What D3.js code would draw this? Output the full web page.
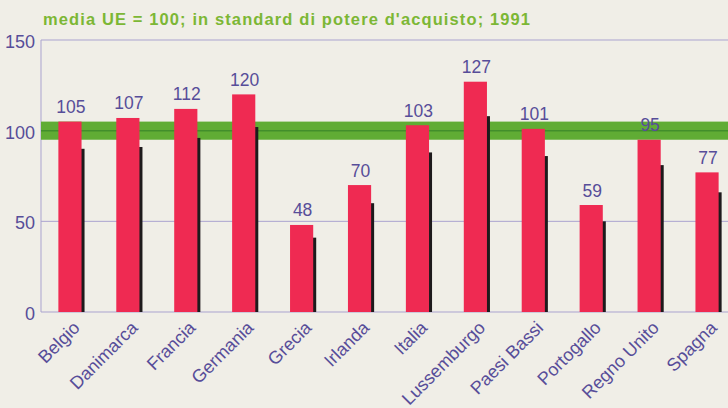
<!DOCTYPE html>
<html lang="it">
<head>
<meta charset="UTF-8">
<title>PIL pro capite UE 1991</title>
<script src="https://d3js.org/d3.v7.min.js"></script>
<style>
  body { margin: 0; background: #f0eee7; }
  svg { display: block; font-family: "Liberation Sans", Arial, sans-serif; }
</style>
</head>
<body>
<svg id="chart" width="728" height="408"></svg>
<script>
// dati
const paesi = ["Belgio", "Danimarca", "Francia", "Germania", "Grecia", "Irlanda",
               "Italia", "Lussemburgo", "Paesi Bassi", "Portogallo", "Regno Unito", "Spagna"];
const valori = [105, 107, 112, 120, 48, 70, 103, 127, 101, 59, 95, 77];
// barra scura dietro ogni colonna
const valoriOmbra = [90, 91, 96, 102, 41, 60, 88, 108, 86, 50, 81, 66];
const yTicks = [0, 50, 100, 150];
const fascia = [95, 105]; // fascia verde intorno alla media UE
const titolo = "media UE = 100; in standard di potere d'acquisto; 1991";

const svg = d3.select("#chart");
const margin = {top: 40, right: -8, bottom: 96, left: 41};
const W = 728, H = 408;

const x = d3.scaleBand().domain(paesi)
    .range([margin.left, W - margin.right])
    .paddingInner(0.6).paddingOuter(0.3);
const y = d3.scaleLinear().domain([0, 150]).range([H - margin.bottom, margin.top]);

const blu = "#574d99";
const griglia = "#aaa3cf";

// titolo
svg.append("text")
    .attr("x", 43).attr("y", 25)
    .attr("fill", "#7cb735")
    .attr("font-weight", "bold")
    .attr("font-size", 16.5)
    .attr("textLength", 487)
    .attr("lengthAdjust", "spacing")
    .text(titolo);

// griglia orizzontale
svg.append("g").selectAll("line")
    .data(yTicks)
    .join("line")
    .attr("x1", margin.left).attr("x2", W)
    .attr("y1", d => y(d)).attr("y2", d => y(d))
    .attr("stroke", griglia).attr("stroke-width", 1);

// asse verticale
svg.append("line")
    .attr("x1", margin.left).attr("x2", margin.left)
    .attr("y1", y(150)).attr("y2", y(0))
    .attr("stroke", griglia);

// etichette asse y
svg.append("g").selectAll("text")
    .data(yTicks)
    .join("text")
    .attr("x", 35).attr("y", d => y(d) + 8)
    .attr("text-anchor", "end")
    .attr("fill", blu)
    .attr("font-size", 18)
    .text(d => d);

// fascia verde della media
svg.append("rect")
    .attr("x", margin.left).attr("width", W - margin.left)
    .attr("y", y(fascia[1])).attr("height", y(fascia[0]) - y(fascia[1]))
    .attr("fill", "#60ac34");
svg.append("line")
    .attr("x1", margin.left).attr("x2", W)
    .attr("y1", y(100)).attr("y2", y(100))
    .attr("stroke", "#428e2b").attr("stroke-width", 1.5);

const bw = x.bandwidth();

// ombre scure
svg.append("g").selectAll("rect")
    .data(paesi)
    .join("rect")
    .attr("x", d => x(d) + bw - 1)
    .attr("width", 4)
    .attr("y", (d, i) => y(valoriOmbra[i]))
    .attr("height", (d, i) => y(0) - y(valoriOmbra[i]))
    .attr("fill", "#1e1a1c");

// colonne rosse
svg.append("g").selectAll("rect")
    .data(paesi)
    .join("rect")
    .attr("x", d => x(d))
    .attr("width", bw)
    .attr("y", (d, i) => y(valori[i]))
    .attr("height", (d, i) => y(0) - y(valori[i]))
    .attr("fill", "#ef2a52");

// valori sopra le colonne
svg.append("g").selectAll("text")
    .data(paesi)
    .join("text")
    .attr("x", d => x(d) + bw / 2 + 1)
    .attr("y", (d, i) => y(valori[i]) - 8.5)
    .attr("text-anchor", "middle")
    .attr("fill", blu)
    .attr("font-size", 17.5)
    .text((d, i) => valori[i]);

// etichette paesi ruotate
svg.append("g").selectAll("text")
    .data(paesi)
    .join("text")
    .attr("transform", d => `translate(${x(d) + bw / 2 + 2},${y(0) + 8}) rotate(-45)`)
    .attr("text-anchor", "end")
    .attr("dy", "0.7em")
    .attr("fill", blu)
    .attr("font-size", 18)
    .text(d => d);
</script>
</body>
</html>
